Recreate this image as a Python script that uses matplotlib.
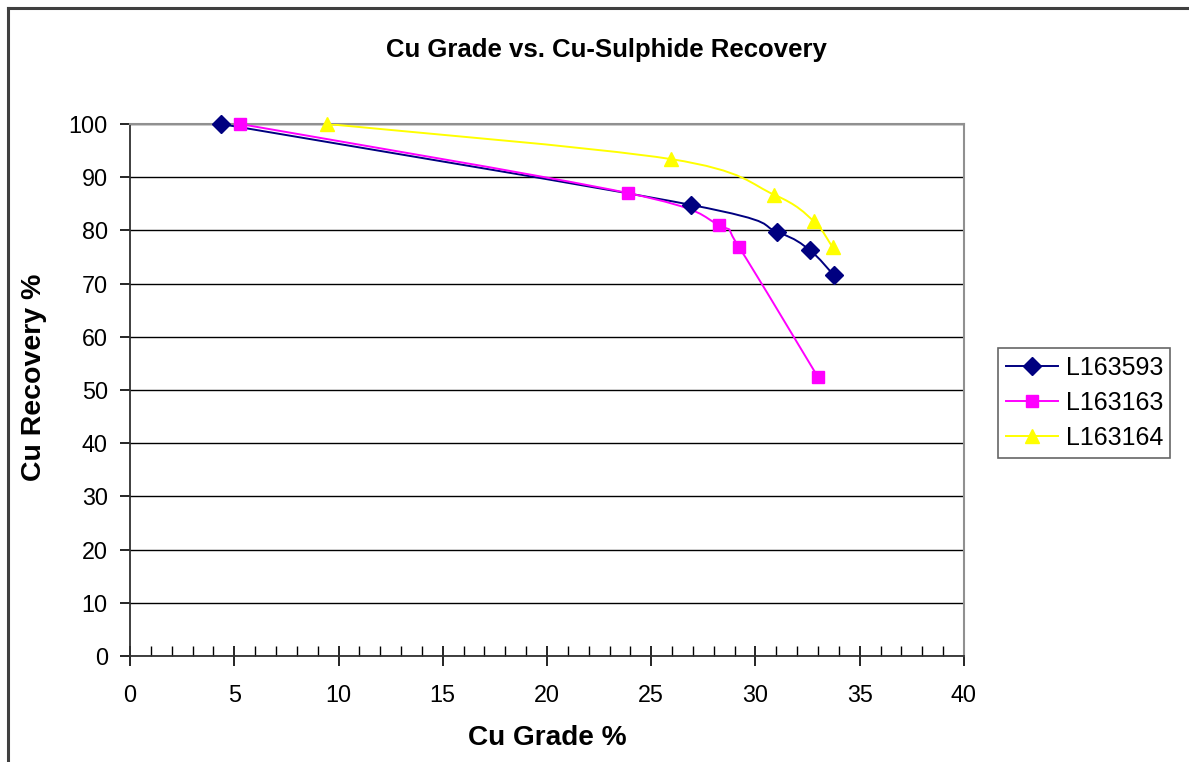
import numpy as np
import matplotlib.pyplot as plt
from matplotlib.path import Path
from matplotlib.patches import PathPatch
from matplotlib.lines import Line2D
from matplotlib.ticker import MultipleLocator

plt.rcParams['font.family'] = ['Liberation Sans', 'DejaVu Sans']

# data
grade_593 = [4.36, 26.9, 31.05, 32.6, 33.75]
rec_593 = [100.0, 84.8, 79.7, 76.3, 71.6]

grade_163 = [5.28, 23.9, 28.25, 29.2, 33.0]
rec_163 = [100.0, 87.0, 81.0, 76.9, 52.4]

grade_164 = [9.45, 25.95, 30.9, 32.8, 33.7]
rec_164 = [100.0, 93.4, 86.7, 81.7, 76.8]

series = [
    ('L163593', grade_593, rec_593, '#000080', 'D', 9.5),
    ('L163163', grade_163, rec_163, '#FF00FF', 's', 8.7),
    ('L163164', grade_164, rec_164, '#FFFF00', '^', 10.5),
]


def smooth_path(x, y):
    # Excel-style smoothed line: cubic Bezier segments through the points
    p = np.column_stack([x, y])
    n = len(p)
    verts = [p[0]]
    codes = [Path.MOVETO]
    for i in range(n - 1):
        prev = p[i - 1] if i > 0 else p[i]
        nxt = p[i + 2] if i + 2 < n else p[i + 1]
        c1 = p[i] + (p[i + 1] - prev) / 6.0
        c2 = p[i + 1] - (nxt - p[i]) / 6.0
        verts += [c1, c2, p[i + 1]]
        codes += [Path.CURVE4] * 3
    return Path(verts, codes)


fig = plt.figure(figsize=(11.89, 7.62), dpi=100)
ax = fig.add_axes([130 / 1189, 1 - 656 / 762, (964 - 130) / 1189, (656 - 124) / 762])

handles = []
for name, gx, ry, col, mk, ms in series:
    ax.add_patch(PathPatch(smooth_path(gx, ry), facecolor='none', edgecolor=col,
                           lw=1.4, zorder=3))
    ax.plot(gx, ry, linestyle='none', marker=mk, color=col, markersize=ms,
            markeredgecolor=col, zorder=4, clip_on=False)
    handles.append(Line2D([], [], color=col, lw=1.4, marker=mk, markersize=ms,
                          markeredgecolor=col))

ax.set_xlim(0, 40)
ax.set_ylim(0, 100)
ax.xaxis.set_major_locator(MultipleLocator(5))
ax.xaxis.set_minor_locator(MultipleLocator(1))
ax.yaxis.set_major_locator(MultipleLocator(10))

ax.grid(axis='y', color='black', lw=1.0)
ax.set_axisbelow(True)

for side in ['top', 'right']:
    ax.spines[side].set_color('#909090')
    ax.spines[side].set_linewidth(1.5)
for side in ['left', 'bottom']:
    ax.spines[side].set_color('#303030')
    ax.spines[side].set_linewidth(1.3)

ax.tick_params(axis='x', which='major', direction='inout', length=14, width=1.2,
               labelsize=16.8, pad=13)
ax.tick_params(axis='x', which='minor', direction='in', length=7, width=1.0)
ax.tick_params(axis='y', which='major', direction='out', length=7, width=1.2,
               labelsize=16.8, pad=9)

ax.set_xlabel('Cu Grade %', fontsize=20.2, fontweight='bold')
ax.set_ylabel('Cu Recovery %', fontsize=20.5, fontweight='bold')
ax.xaxis.set_label_coords((547 - 130) / (964 - 130), -(738 - 656) / (656 - 124))
ax.yaxis.set_label_coords(-(130 - 34) / (964 - 130), (656 - 377) / (656 - 124))
ax.xaxis.label.set_va('center')
ax.yaxis.label.set_va('center')
fig.text(606 / 1189, 1 - 50 / 762, 'Cu Grade vs. Cu-Sulphide Recovery',
         ha='center', va='center', fontsize=18.5, fontweight='bold')

leg = fig.legend(handles, [s[0] for s in series], loc='upper left',
                 bbox_to_anchor=(998 / 1189, 1 - 348 / 762), fontsize=18,
                 frameon=True, fancybox=False, handlelength=2.1,
                 borderpad=0.3, labelspacing=0.45, handletextpad=0.3,
                 borderaxespad=0)
leg.get_frame().set_edgecolor('#404040')
leg.get_frame().set_linewidth(1.2)

# outer chart border (top and left edges visible)
fig.add_artist(Line2D([8 / 1189, 1.0], [1 - 8 / 762, 1 - 8 / 762],
                      transform=fig.transFigure, color='#404040', lw=2.2))
fig.add_artist(Line2D([8 / 1189, 8 / 1189], [0.0, 1 - 8 / 762],
                      transform=fig.transFigure, color='#404040', lw=2.2))

fig.savefig('out.png', dpi=100)
